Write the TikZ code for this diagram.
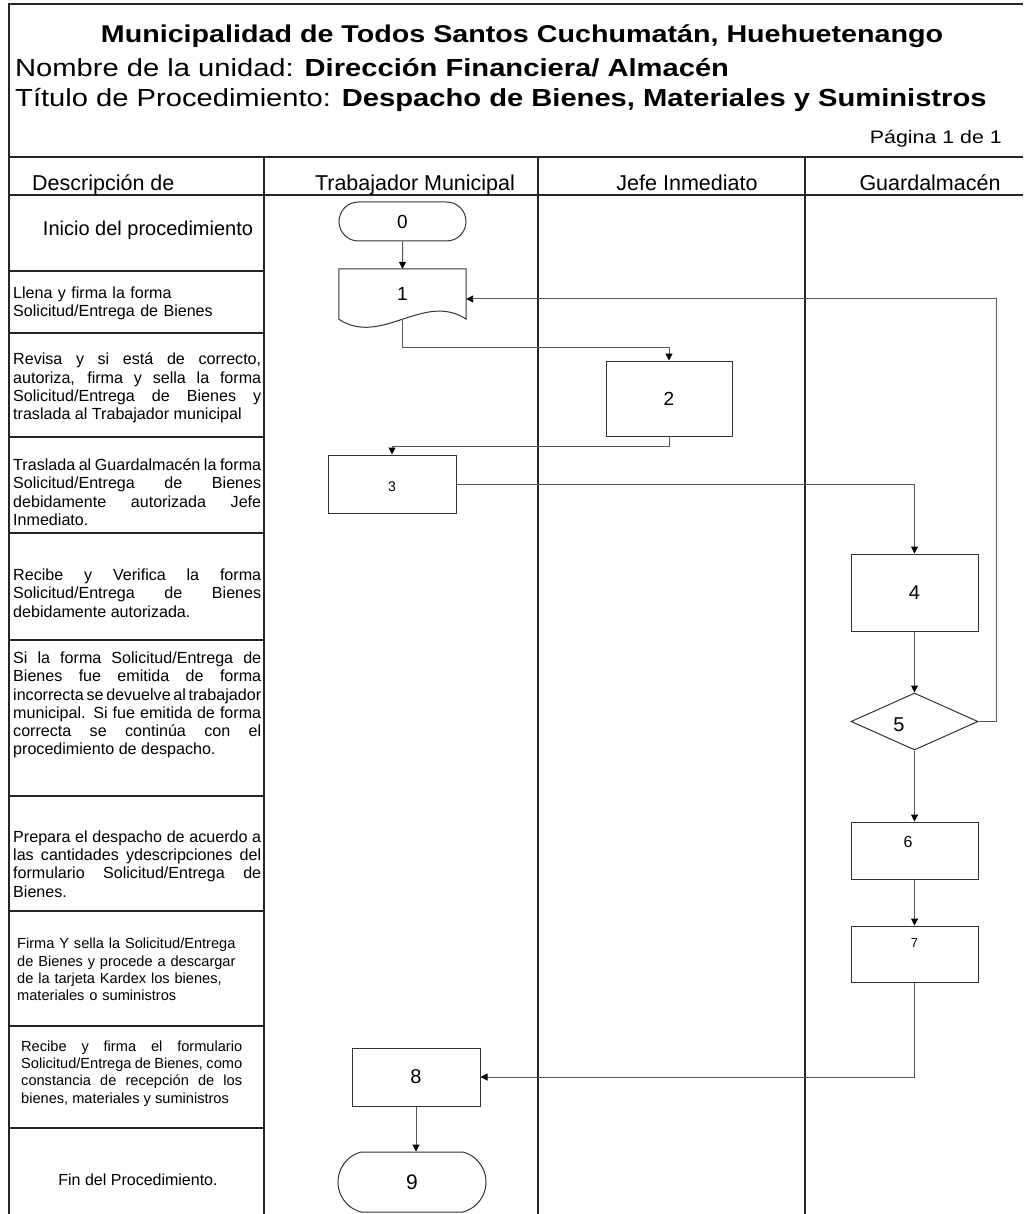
\documentclass[tikz,border=0pt]{standalone}
\usepackage{fontspec}
\setmainfont{Liberation Sans}
\newfontfamily\titlefont{Liberation Sans}[FakeStretch=1.18]
\usetikzlibrary{arrows.meta,shapes.geometric,shapes.misc}

\newcommand{\setsz}[2]{\fontsize{#1}{#2}\selectfont}
\newcommand{\descfont}{\setsz{16.1}{18.3}\spaceskip=0.278em plus 0.6em minus 0.2em
  \hyphenpenalty=10000 \tolerance=10000 }
\newcommand{\smallfont}{\setsz{14.6}{17.4}\spaceskip=0.278em plus 0.6em minus 0.2em
  \hyphenpenalty=10000 \tolerance=10000 }

\begin{document}
\begin{tikzpicture}
	[x=1pt,y=-1pt,
	grid/.style={line width=1.5pt, black!85},
	box/.style={draw=black!80, line width=1pt, rectangle, inner sep=0pt, font=\setsz{19}{19}},
	term/.style={box, rounded rectangle},
	decide/.style={box, diamond},
	flow/.style={draw=black!65, line width=1pt, -{Triangle[length=7pt,width=7pt,color=black]}},
	desc/.style={anchor=west, inner sep=0pt, text width=248pt, align=justify, font=\descfont},
	head/.style={inner sep=0pt, anchor=base, font=\setsz{21.5}{21.5}}]
	\useasboundingbox (0,0) rectangle (1023,1214);
	
	% frame and lanes
	\draw[grid] (1023,4) -- (9,4) -- (9,1214);
	\draw[grid] (9,157) -- (1023,157);
	\draw[grid] (9,195) -- (1023,195);
	\foreach \x in {264,538,805}
	\draw[grid] (\x,157) -- (\x,1214);
	\foreach \y in {271,333,437,533,640,796,911,1026,1128}
	\draw[grid] (9,\y) -- (264,\y);
	
	% title
	\node[inner sep=0pt, font=\titlefont\setsz{24.3}{24.3}\bfseries] (t1) at (522,36)
	{Municipalidad de Todos Santos Cuchumatán, Huehuetenango};
	\node[anchor=west, inner sep=0pt, font=\titlefont\setsz{24.7}{24.7}] (t2) at (15,67.5)
	{Nombre de la unidad: \textbf{Dirección Financiera/ Almacén}};
	\node[anchor=west, inner sep=0pt, font=\titlefont\setsz{24.7}{24.7}] (t3) at (15,99.5)
	{Título de Procedimiento: \textbf{Despacho de Bienes, Materiales y Suministros}};
	\node[anchor=east, inner sep=0pt, font=\titlefont\setsz{18.1}{18.1}] (pg) at (1002,138.5)
	{Página 1 de 1};
	
	% lane heads
	\node[head, anchor=base west] (h0) at (32,191) {Descripción de};
	\node[head] (h1) at (415,191) {Trabajador Municipal};
	\node[head] (h2) at (687,191) {Jefe Inmediato};
	\node[head] (h3) at (930,191) {Guardalmacén};
	
	% descriptions
	\node[inner sep=0pt, font=\setsz{20}{20}] (d1) at (148,230) {Inicio del procedimiento};
	\node[desc, align=left] (d2) at (13,303.5)
	{Llena y firma la forma\\Solicitud/Entrega de Bienes};
	\node[desc] (d3) at (13,388)
	{Revisa y si está de correcto,\linebreak autoriza, firma y sella la forma\linebreak
		Solicitud/Entrega de Bienes y\linebreak traslada al Trabajador municipal};
	\node[desc] (d4) at (13,492)
	{Traslada al Guardalmacén la forma\linebreak Solicitud/Entrega de Bienes\linebreak
		debidamente autorizada Jefe\linebreak Inmediato.};
	\node[desc] (d5) at (13,593)
	{Recibe y Verifica la forma\linebreak Solicitud/Entrega de Bienes\linebreak
		debidamente autorizada.};
	\node[desc] (d6) at (13,705)
	{Si la forma Solicitud/Entrega de\linebreak Bienes fue emitida de forma\linebreak
		incorrecta se devuelve al trabajador\linebreak municipal. Si fue emitida de forma\linebreak
		correcta se continúa con el\linebreak procedimiento de despacho.};
	\node[desc] (d7) at (13,864)
	{Prepara el despacho de acuerdo a\linebreak las cantidades ydescripciones del\linebreak
		formulario Solicitud/Entrega de\linebreak Bienes.};
	\node[desc, align=left, text width=235pt, font=\smallfont] (d8) at (17,969.5)
	{Firma Y sella la Solicitud/Entrega\\de Bienes y procede a descargar\\
		de la tarjeta Kardex los bienes,\\materiales o suministros};
	\node[desc, text width=221pt, font=\smallfont] (d9) at (21,1073.5)
	{Recibe y firma el formulario\linebreak Solicitud/Entrega de Bienes, como\linebreak
		constancia de recepción de los\linebreak bienes, materiales y suministros};
	\node[inner sep=0pt, font=\setsz{16}{16}] (d10) at (138,1180) {Fin del Procedimiento.};
	
	% steps
	\node[term, minimum width=127pt, minimum height=39pt] (n0) at (402.5,221.5) {0};
	\node[inner sep=0pt, minimum width=127pt, minimum height=50pt, font=\setsz{19}{19}] (n1) at (402.5,294) {1};
	\draw[draw=black!80, line width=1pt] (n1.south west) -- (n1.north west) -- (n1.north east)
	-- (n1.south east) .. controls +(-42,-28) and +(42,28) .. (n1.south west);
	\node[box, minimum width=126pt, minimum height=75pt] (n2) at (669,398.5) {2};
	\node[box, minimum width=128pt, minimum height=58pt,
	label={[font=\setsz{14}{14}, yshift=-3pt]center:3}] (n3) at (392,484) {};
	\node[box, minimum width=127pt, minimum height=77pt, font=\setsz{20}{20}] (n4) at (914.5,592.5) {4};
	\node[decide, minimum width=127pt, minimum height=57pt,
	label={[font=\setsz{20}{20}, xshift=-15.5pt, yshift=-3.5pt]center:5}] (n5) at (914.5,721.5) {};
	\node[box, minimum width=127pt, minimum height=57pt,
	label={[font=\setsz{16}{16}, xshift=-6.5pt, yshift=8.5pt]center:6}] (n6) at (914.5,850.5) {};
	\node[box, minimum width=127pt, minimum height=56pt,
	label={[font=\setsz{13}{13}, yshift=11pt]center:7}] (n7) at (914.5,954) {};
	\node[box, minimum width=128pt, minimum height=58pt, font=\setsz{20}{20}] (n8) at (416,1077) {8};
	\node[term, rounded rectangle arc length=150, minimum width=148pt, minimum height=60pt,
	font=\setsz{21}{21}] (n9) at (412,1182) {9};
	
	% flow
	\coordinate (c12) at (402.5,347);
	\coordinate (c23) at (669,446);
	\coordinate (c51) at (996,299);
	\foreach \from/\to in {n0/n1,n4/n5,n5/n6,n6/n7}
	\draw[flow] (\from) -- (\to);
	\draw[flow] (n1.south) -- (c12) -| (n2.north);
	\draw[flow] (n2.south) -- (c23) -| (n3.north);
	\draw[flow] (n3.east) -| (n4.north);
	\draw[flow] (n5.east) -| (c51) -- (n1.east |- c51);
	\draw[flow] (n7.south) |- (n8.east);
	\draw[flow] (n8.south) -- (n8.south |- n9.north);
\end{tikzpicture}
\end{document}
